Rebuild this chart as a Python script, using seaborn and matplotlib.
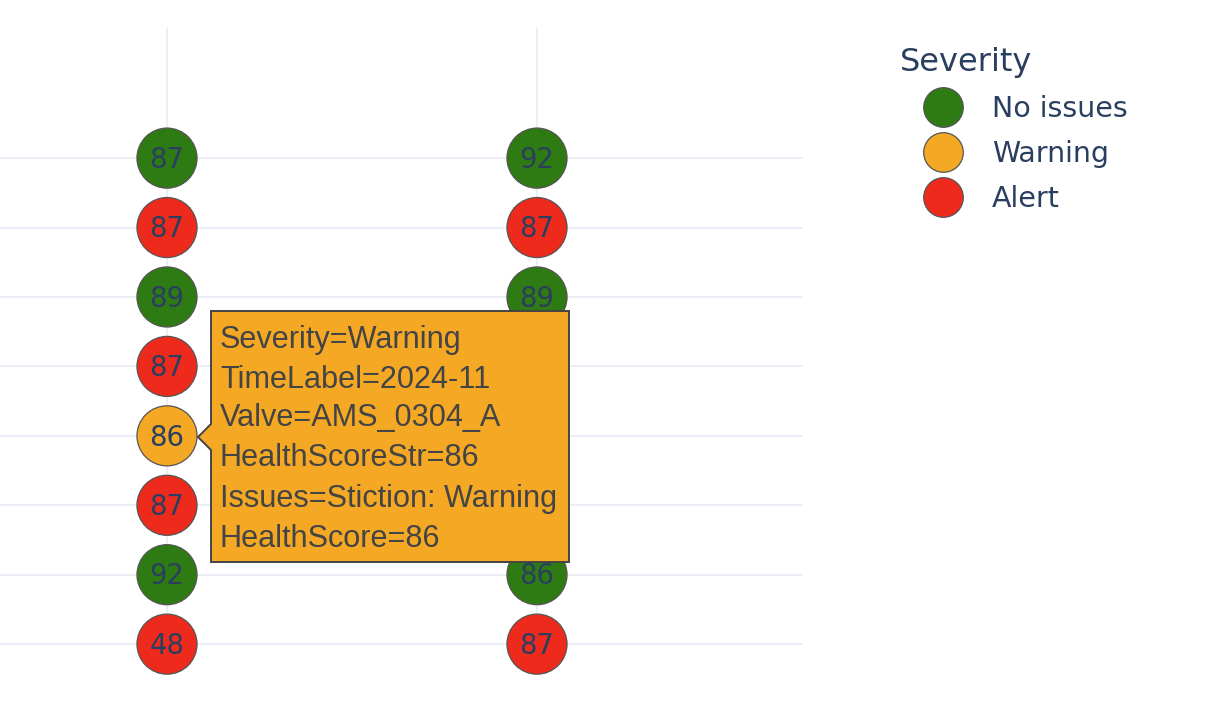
import matplotlib
matplotlib.use("Agg")
import matplotlib.pyplot as plt
from matplotlib.lines import Line2D
from matplotlib.patches import Polygon
import seaborn as sns
import pandas as pd

# ---- data ----
time_labels = ["2024-11", "2024-12"]
# valves listed top -> bottom
valves = ["AMS_0301_A", "AMS_0301_B", "AMS_0302_A", "AMS_0303_A",
          "AMS_0304_A", "AMS_0305_A", "AMS_0306_A", "AMS_0307_A"]
scores_2024_11 = [87, 87, 89, 87, 86, 87, 92, 48]
severity_2024_11 = ["No issues", "Alert", "No issues", "Alert",
                    "Warning", "Alert", "No issues", "Alert"]
scores_2024_12 = [92, 87, 89, 87, 86, 87, 86, 87]
severity_2024_12 = ["No issues", "Alert", "No issues", "Alert",
                    "Warning", "Alert", "No issues", "Alert"]
severity_order = ["No issues", "Warning", "Alert"]
palette = {"No issues": "#2E7B13", "Warning": "#F4A824", "Alert": "#EE2A1C"}

# points whose labels are covered by the hover box in the picture
covered = [("2024-12", "AMS_0303_A"), ("2024-12", "AMS_0304_A"),
           ("2024-12", "AMS_0305_A")]

tooltip_lines = ["Severity=Warning", "TimeLabel=2024-11", "Valve=AMS_0304_A",
                 "HealthScoreStr=86", "Issues=Stiction: Warning", "HealthScore=86"]

# ---- build frame (bottom row first so categorical axis puts it at 0) ----
rows = []
for t, sc, sv in [(time_labels[0], scores_2024_11, severity_2024_11),
                  (time_labels[1], scores_2024_12, severity_2024_12)]:
    for v, s, c in reversed(list(zip(valves, sc, sv))):
        rows.append({"TimeLabel": t, "Valve": v, "HealthScore": s, "Severity": c})
df = pd.DataFrame(rows)

sns.set_theme(style="white")
plt.rcParams["font.family"] = ["DejaVu Sans"]

W, H = 1225, 720
fig = plt.figure(figsize=(W / 100, H / 100), dpi=100)
ax = fig.add_axes([0, 1 - 674 / H, 803 / W, (674 - 28) / H])

sns.scatterplot(data=df, x="TimeLabel", y="Valve", hue="Severity",
                hue_order=severity_order, palette=palette, s=1870,
                edgecolor="#555555", linewidth=0.9, legend=False, ax=ax,
                zorder=3, clip_on=False)

for _, r in df.iterrows():
    if (r["TimeLabel"], r["Valve"]) in covered:
        continue
    xi = ax.xaxis.convert_units(r["TimeLabel"])
    yi = ax.yaxis.convert_units(r["Valve"])
    ax.annotate(str(r["HealthScore"]), (xi, yi), xytext=(0, -1.2),
                textcoords="offset points", ha="center", va="center",
                fontsize=19.8, color="#2a3f5f", zorder=4, annotation_clip=False)

ax.set_xlim(-167 / 370, (803 - 167) / 370)
ax.set_ylim(-0.43, 8.874)
ax.grid(True, color="#E8EDF5", linewidth=1.3)
ax.set_axisbelow(True)
for sp in ax.spines.values():
    sp.set_visible(False)
ax.tick_params(left=False, bottom=False, labelleft=False, labelbottom=False)
ax.set_xlabel("")
ax.set_ylabel("")

# ---- legend ----
handles = [Line2D([0], [0], marker="o", linestyle="", markersize=28.5,
                  markerfacecolor=palette[k], markeredgecolor="#555555",
                  markeredgewidth=0.9) for k in severity_order]
leg = fig.legend(handles, severity_order, title="Severity",
                 loc="upper left", bbox_to_anchor=(900 / W, 1 - 47 / H),
                 frameon=False, fontsize=20.5, title_fontsize=23,
                 borderpad=0, borderaxespad=0, handlelength=3.04,
                 handletextpad=0.18, labelspacing=0.6, alignment="left")
for t in leg.get_texts():
    t.set_color("#2a3f5f")
leg.get_title().set_color("#2a3f5f")

# ---- hover tooltip ----
def fx(px):
    return px / W

def fy(py):
    return 1 - py / H

poly = [(211, 311), (569, 311), (569, 562), (211, 562), (211, 450),
        (198, 437), (211, 424)]
fig.patches.append(Polygon([(fx(a), fy(b)) for a, b in poly], closed=True,
                           transform=fig.transFigure, facecolor="#F4A824",
                           edgecolor="#444444", linewidth=1.4, zorder=10))
line_y = [340, 380, 418, 458, 499, 539]
for txt, yy in zip(tooltip_lines, line_y):
    fig.text(fx(220), fy(yy), txt, ha="left", va="center", fontsize=22.1,
             family="Liberation Sans", color="#444444", zorder=11)

fig.savefig("out.png", dpi=100)
